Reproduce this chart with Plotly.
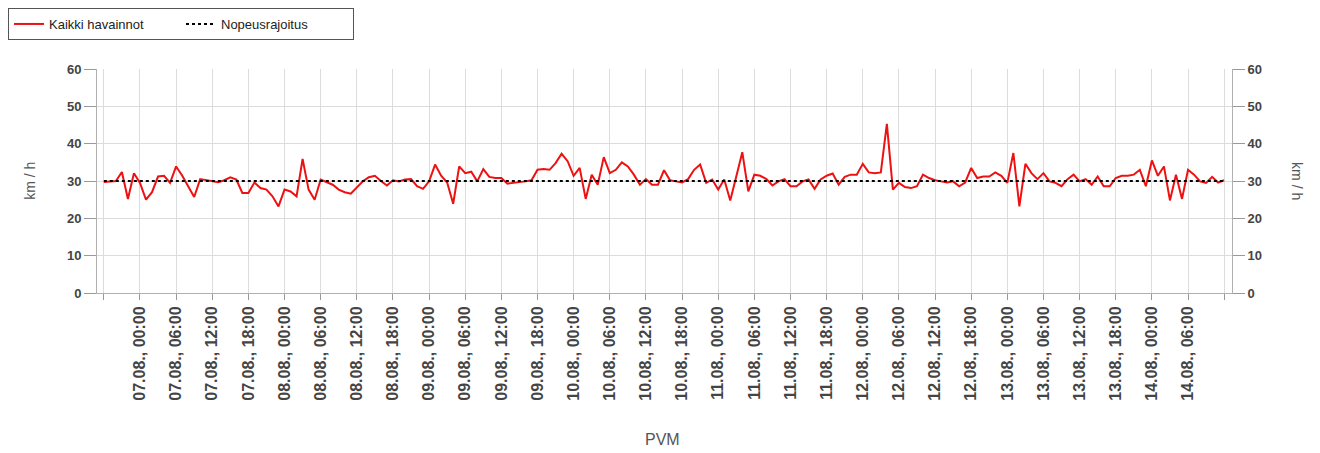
import plotly.graph_objects as go
import pandas as pd

# Hourly observations, starting 06.08. 18:00
start_time = "2023-08-06 18:00"
speeds = [
    29.7, 29.8, 30.0, 32.4, 25.2, 32.1,
    29.5, 25.0, 27.0, 31.2, 31.4, 29.5, 33.9, 31.5, 28.5, 25.7, 30.5, 30.2,
    29.9, 29.7, 30.2, 31.0, 30.4, 26.8, 26.8, 29.6, 28.1, 27.7, 25.9, 23.2,
    27.7, 27.2, 25.9, 35.9, 27.7, 25.0, 30.4, 29.6, 29.0, 27.7, 27.0, 26.6,
    28.4, 29.9, 31.0, 31.4, 30.0, 28.8, 30.2, 29.9, 30.4, 30.5, 28.6, 27.9,
    29.9, 34.4, 31.4, 29.6, 23.9, 33.9, 32.1, 32.5, 29.9, 33.2, 31.1, 30.8,
    30.8, 29.3, 29.5, 29.6, 29.9, 30.2, 33.0, 33.2, 33.0, 34.8, 37.3, 35.3,
    31.4, 33.5, 25.2, 31.7, 29.0, 36.4, 32.1, 33.0, 35.0, 33.9, 31.7, 29.0,
    30.5, 29.0, 29.0, 32.9, 30.2, 29.9, 29.6, 30.5, 33.0, 34.4, 29.5, 30.4,
    27.7, 30.4, 24.8, 31.2, 37.7, 27.2, 31.7, 31.4, 30.5, 28.8, 29.9, 30.5,
    28.6, 28.6, 29.9, 30.4, 27.9, 30.4, 31.4, 32.0, 29.0, 31.1, 31.7, 31.7,
    34.6, 32.3, 32.1, 32.3, 45.3, 27.7, 29.5, 28.4, 28.1, 28.6, 31.7, 30.8,
    30.2, 29.9, 29.6, 29.9, 28.6, 29.6, 33.5, 30.8, 31.2, 31.2, 32.3, 31.4,
    29.5, 37.5, 23.2, 34.6, 32.1, 30.5, 32.1, 29.9, 29.5, 28.6, 30.5, 31.7,
    29.9, 30.5, 29.0, 31.2, 28.6, 28.6, 30.8, 31.4, 31.4, 31.7, 33.0, 28.6,
    35.5, 31.4, 33.9, 24.8, 31.7, 25.2, 33.0, 31.7, 29.9, 29.5, 31.1, 29.6,
    30.2,
]
speed_limit = 30
y_ticks = [0, 10, 20, 30, 40, 50, 60]

times = pd.date_range(start_time, periods=len(speeds), freq="h")
tick_times = pd.date_range(times[0], times[-1], freq="6h")
tick_text = [t.strftime("%d.%m., %H:%M") for t in tick_times]
tick_text[0] = ""
tick_text[-1] = ""

x_range = [times[0] - pd.Timedelta(minutes=68), times[-1] + pd.Timedelta(minutes=78)]

fig = go.Figure()
fig.add_trace(go.Scatter(
    x=times, y=speeds, mode="lines", name="Kaikki havainnot",
    line=dict(color="#ee1111", width=2),
))
fig.add_trace(go.Scatter(
    x=[times[0], times[-1]], y=[speed_limit, speed_limit], mode="lines",
    name="Nopeusrajoitus", line=dict(color="black", width=2, dash="dot"),
))
fig.add_trace(go.Scatter(
    x=[times[0]], y=[speed_limit], yaxis="y2", mode="markers",
    marker=dict(opacity=0), showlegend=False, hoverinfo="skip",
))

font_family = "Liberation Sans, Arial, sans-serif"
axis_common = dict(
    range=[0, 60], tickvals=y_ticks, ticks="outside", ticklen=12,
    tickcolor="#999", tickwidth=1, showgrid=True, gridcolor="#dcdcdc",
    showline=True, linecolor="#b0b0b0", zeroline=False,
    tickfont=dict(family=font_family, size=13, color="#444", weight="bold"),
)

# page has an 8px body margin; margins below compensate for it
fig.update_layout(
    width=1320, height=453,
    margin=dict(l=89, r=96, t=61, b=168),
    paper_bgcolor="white", plot_bgcolor="white",
    font=dict(family=font_family),
    xaxis=dict(
        type="date", range=x_range, tickvals=tick_times, ticktext=tick_text,
        tickangle=-90, ticks="outside", ticklen=6, tickcolor="#999",
        showgrid=True, gridcolor="#dcdcdc", showline=True, linecolor="#b0b0b0",
        tickfont=dict(family=font_family, size=16, color="#444", weight="bold"),
        zeroline=False,
    ),
    yaxis=dict(**axis_common, side="left"),
    yaxis2=dict(**axis_common, side="right", overlaying="y"),
    legend=dict(
        xref="container", yref="container", x=0, y=1,
        xanchor="left", yanchor="top", orientation="h",
        bordercolor="#555", borderwidth=1, bgcolor="white",
        font=dict(family=font_family, size=13, color="#222"),
        entrywidth=127, entrywidthmode="pixels",
    ),
    showlegend=True,
    annotations=[
        dict(text="km / h", xref="paper", yref="paper", x=-0.068, y=0.5,
             textangle=-90, showarrow=False,
             font=dict(family=font_family, size=14, color="#555")),
        dict(text="km / h", xref="paper", yref="paper", x=1.066, y=0.5,
             textangle=90, showarrow=False,
             font=dict(family=font_family, size=14, color="#555")),
        dict(text="PVM", xref="paper", yref="paper", x=0.4985, y=-0.70,
             showarrow=False,
             font=dict(family=font_family, size=16, color="#555")),
    ],
)

fig.write_html("out.html")
